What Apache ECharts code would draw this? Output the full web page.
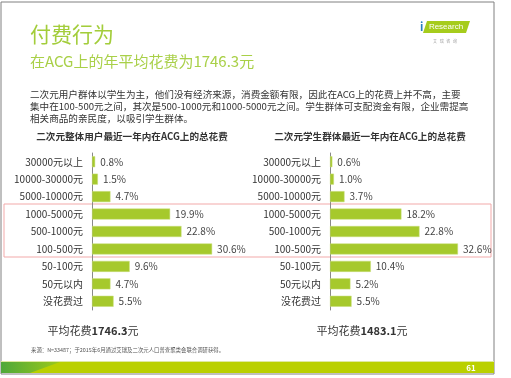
<!DOCTYPE html>
<html><head><meta charset="utf-8">
<script src="https://cdn.jsdelivr.net/npm/echarts@6/dist/echarts.min.js"></script>
<style>html,body{margin:0;padding:0;background:#fff}#c{width:511px;height:378px}</style>
</head><body><div id="c"></div>
<script>
const categories = ['30000元以上','10000-30000元','5000-10000元','1000-5000元','500-1000元','100-500元','50-100元','50元以内','没花费过'];
const allUsers = [0.8,1.5,4.7,19.9,22.8,30.6,9.6,4.7,5.5];
const students = [0.6,1.0,3.7,18.2,22.8,32.6,10.4,5.2,5.5];
const chartTitles = ['二次元整体用户最近一年内在ACG上的总花费','二次元学生群体最近一年内在ACG上的总花费'];
const avgValues = ['1746.3','1483.1'];

const FONT = '"Noto Sans CJK SC","Microsoft YaHei",sans-serif';
const GREEN = '#a6c92c';
const chart = echarts.init(document.getElementById('c'), null, {renderer:'canvas'});

function yAxisCfg(gi){
  return {type:'category', gridIndex:gi, data:categories, inverse:true,
    axisLine:{show:true,lineStyle:{color:'#8a8a8a',width:1}}, axisTick:{show:false},
    axisLabel:{color:'#333',fontSize:10,fontFamily:FONT,margin:9}};
}
function xAxisCfg(gi){
  return {type:'value', gridIndex:gi, min:0, max:40, show:false, splitLine:{show:false}};
}
function seriesCfg(gi, data){
  return {type:'bar', xAxisIndex:gi, yAxisIndex:gi, data:data, barWidth:11,
    itemStyle:{color:GREEN, borderColor:'#c9df7a', borderWidth:0.5},
    label:{show:true, position:'right', distance:5, color:'#444', fontSize:10, fontFamily:FONT,
      formatter:p=>p.value.toFixed(1)+'%'}, silent:true};
}

chart.setOption({
  animation:false,
  grid:[{left:92, top:153, width:157, height:157},{left:330, top:153, width:157, height:157}],
  xAxis:[xAxisCfg(0), xAxisCfg(1)],
  yAxis:[yAxisCfg(0), yAxisCfg(1)],
  series:[seriesCfg(0, allUsers), seriesCfg(1, students)],
  graphic:[
    {type:'rect', shape:{x:1,y:2,width:493,height:372}, style:{fill:'none',stroke:'#808080',lineWidth:1}, z:-1},
    {type:'text', left:30, top:24, style:{text:'付费行为', fill:'#a3cd3b', font:'21px '+FONT}},
    {type:'text', left:30, top:54, style:{text:'在ACG上的年平均花费为1746.3元', fill:'#a9d048', font:'15px '+FONT}},
    {type:'text', left:30, top:88, style:{text:'二次元用户群体以学生为主，他们没有经济来源，消费金额有限，因此在ACG上的花费上并不高，主要\n集中在100-500元之间，其次是500-1000元和1000-5000元之间。学生群体可支配资金有限，企业需提高\n相关商品的亲民度，以吸引学生群体。', fill:'#333', font:'9.6px '+FONT, lineHeight:12}},
    {type:'text', x:132, y:136, style:{text:chartTitles[0], fill:'#333', font:'bold 9.6px '+FONT, align:'center', verticalAlign:'middle'}},
    {type:'text', x:370, y:136, style:{text:chartTitles[1], fill:'#333', font:'bold 9.6px '+FONT, align:'center', verticalAlign:'middle'}},
    {type:'rect', shape:{x:4,y:204,width:487,height:53}, style:{fill:'none',stroke:'#f2a9a9',lineWidth:1}},
    {type:'text', x:93, y:331, style:{text:'{n|平均花费}{b|'+avgValues[0]+'}{n|元}', align:'center', verticalAlign:'middle', rich:{n:{fill:'#333',font:'11px '+FONT},b:{fill:'#333',font:'bold 11px '+FONT}}}},
    {type:'text', x:362, y:331, style:{text:'{n|平均花费}{b|'+avgValues[1]+'}{n|元}', align:'center', verticalAlign:'middle', rich:{n:{fill:'#333',font:'11px '+FONT},b:{fill:'#333',font:'bold 11px '+FONT}}}},
    {type:'text', left:31, top:347, style:{text:'来源：N=33487；于2015年6月通过艾瑞及二次元人口普查聚类会联合调研获得。', fill:'#555', font:'5.4px '+FONT}},
    {type:'rect', shape:{x:1,y:362,width:493,height:11}, style:{fill:'#bad000'}},
    {type:'rect', shape:{x:1,y:361,width:493,height:1}, style:{fill:'#dfe9a0'}},
    {type:'polygon', shape:{points:[[1,362],[60,362],[30,373],[1,373]]}, style:{fill:new echarts.graphic.LinearGradient(0,0,1,0,[{offset:0,color:'#4ea83a'},{offset:1,color:'#9cc81a'}])}},
    {type:'text', x:471, y:367.5, style:{text:'61', fill:'#fff', font:'bold 8px '+FONT, align:'center', verticalAlign:'middle'}},
    {type:'polygon', shape:{points:[[427,21],[470,21],[466,33],[423,33]]}, style:{fill:'#a6cc1c'}},
    {type:'text', x:420, y:27, style:{text:'i', fill:'#2a7fc0', font:'bold 11px '+FONT, verticalAlign:'middle'}},
    {type:'text', x:446, y:27, style:{text:'Research', fill:'#fff', font:'8px "Liberation Sans",sans-serif', align:'center', verticalAlign:'middle'}},
    {type:'text', x:445, y:41, style:{text:'艾   瑞   咨   询', fill:'#999', font:'4px '+FONT, align:'center', verticalAlign:'middle'}}
  ]
});
</script></body></html>
